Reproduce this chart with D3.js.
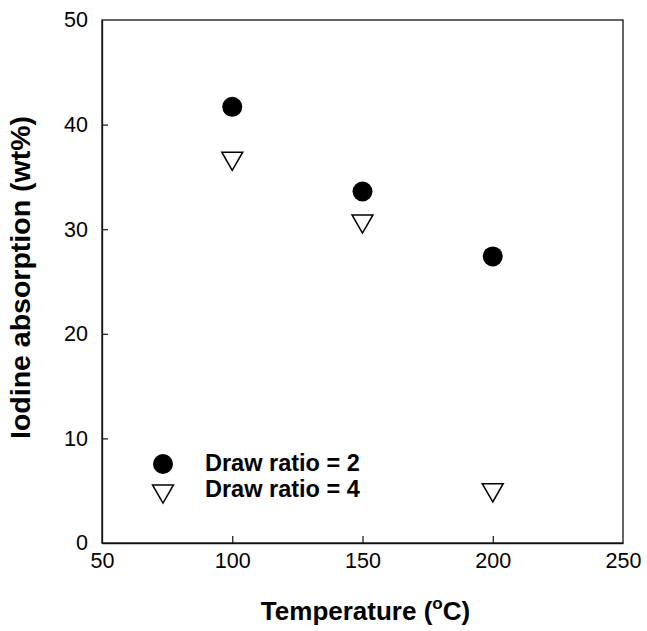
<!DOCTYPE html>
<html>
<head>
<meta charset="utf-8">
<script src="https://cdn.jsdelivr.net/npm/d3@7"></script>
<style>
  html, body { margin: 0; padding: 0; background: #fff; }
  svg { display: block; }
  text { font-family: "Liberation Sans", Arial, sans-serif; fill: #000; }
</style>
</head>
<body>
<svg id="chart" width="647" height="631"></svg>
<script>
// Data
const temperatures = [100, 150, 200];
const drawRatio2 = [41.7, 33.6, 27.4];
const drawRatio4 = [36.5, 30.5, 4.8];
const xTicks = [50, 100, 150, 200, 250];
const yTicks = [0, 10, 20, 30, 40, 50];
const legendLabels = ["Draw ratio = 2", "Draw ratio = 4"];

const W = 647, H = 631;
const margin = { left: 102, right: 24, top: 20, bottom: 88 };
const plotW = W - margin.left - margin.right;
const plotH = H - margin.top - margin.bottom;

const svg = d3.select("#chart");
const g = svg.append("g").attr("transform", `translate(${margin.left},${margin.top})`);

const x = d3.scaleLinear().domain([50, 250]).range([0, plotW]);
const y = d3.scaleLinear().domain([0, 50]).range([plotH, 0]);

// frame
g.append("rect")
    .attr("width", plotW)
    .attr("height", plotH)
    .attr("fill", "none")
    .attr("stroke", "#111")
    .attr("stroke-width", 1.3);

// axes with inward ticks
const xAxis = g.append("g")
    .attr("transform", `translate(0,${plotH})`)
    .call(d3.axisBottom(x).tickValues(xTicks).tickSizeInner(-7).tickSizeOuter(0).tickPadding(10));
const yAxis = g.append("g")
    .call(d3.axisLeft(y).tickValues(yTicks).tickSizeInner(-6).tickSizeOuter(0).tickPadding(14));

[xAxis, yAxis].forEach(a => {
    a.select(".domain").attr("stroke", "#111").attr("stroke-width", 1.3);
    a.selectAll(".tick line").attr("stroke", "#111").attr("stroke-width", 1.2);
    a.selectAll(".tick text")
        .attr("font-family", "Liberation Sans, Arial, sans-serif")
        .attr("font-size", 21.5)
        .attr("fill", "#000");
});
// drop the ticks sitting on the frame corners
xAxis.selectAll(".tick line").filter(d => d === 50 || d === 250).remove();
yAxis.selectAll(".tick line").filter(d => d === 0 || d === 50).remove();
xAxis.selectAll(".tick text").attr("dy", "0.71em");

// down-pointing triangle, centred on its bounding box
const triSymbol = d3.symbol().type(d3.symbolTriangle).size(190);
const triPlace = (px, py) => `translate(${px},${py}) rotate(180) translate(0,3)`;

// series: draw ratio = 2 (filled circles)
g.selectAll(".dr2")
    .data(temperatures.map((t, i) => ({ t, v: drawRatio2[i] })))
    .enter()
    .append("circle")
    .attr("class", "dr2")
    .attr("cx", d => x(d.t))
    .attr("cy", d => y(d.v))
    .attr("r", 10)
    .attr("fill", "#000");

// series: draw ratio = 4 (open down triangles)
g.selectAll(".dr4")
    .data(temperatures.map((t, i) => ({ t, v: drawRatio4[i] })))
    .enter()
    .append("path")
    .attr("class", "dr4")
    .attr("d", triSymbol)
    .attr("transform", d => triPlace(x(d.t), y(d.v)))
    .attr("fill", "#fff")
    .attr("stroke", "#000")
    .attr("stroke-width", 1.5);

// legend
const legend = g.append("g").attr("transform", "translate(61,444)");
legend.append("circle").attr("cx", 0).attr("cy", 0).attr("r", 10).attr("fill", "#000");
legend.append("path")
    .attr("d", triSymbol)
    .attr("transform", triPlace(0, 30))
    .attr("fill", "#fff")
    .attr("stroke", "#000")
    .attr("stroke-width", 1.5);
legend.selectAll(".leg-text")
    .data(legendLabels)
    .enter()
    .append("text")
    .attr("class", "leg-text")
    .attr("x", 42)
    .attr("y", (d, i) => 7 + i * 25.5)
    .attr("font-size", 23.5)
    .attr("font-weight", "bold")
    .text(d => d);

// axis titles
const xTitle = svg.append("text")
    .attr("x", margin.left + plotW / 2 + 3)
    .attr("y", 620)
    .attr("text-anchor", "middle")
    .attr("font-size", 26)
    .attr("font-weight", "bold");
xTitle.append("tspan").text("Temperature (");
xTitle.append("tspan").attr("font-size", 17).attr("dy", -11).text("o");
xTitle.append("tspan").attr("dy", 11).text("C)");

svg.append("text")
    .attr("transform", `translate(30,${margin.top + plotH / 2 - 4}) rotate(-90)`)
    .attr("text-anchor", "middle")
    .attr("font-size", 28.5)
    .attr("font-weight", "bold")
    .text("Iodine absorption (wt%)");
</script>
</body>
</html>
